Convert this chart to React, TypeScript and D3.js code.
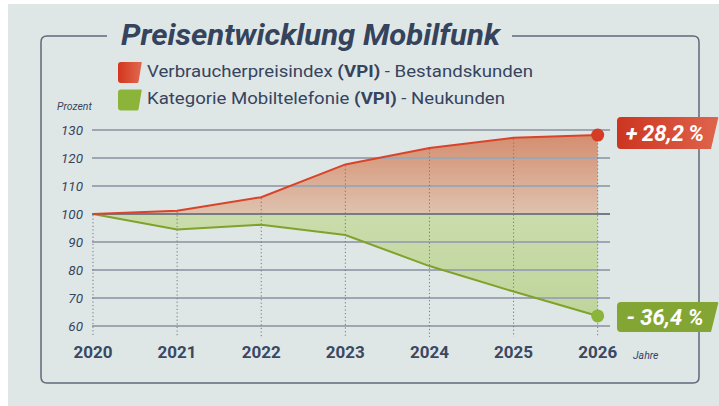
import React from "react";
import * as d3 from "d3";

const years = [2020, 2021, 2022, 2023, 2024, 2025, 2026];
const vpiBestand = [100, 101.2, 106, 117.7, 123.6, 127.2, 128.2];
const mobilNeu = [100, 94.5, 96.2, 92.5, 81.4, 72.3, 63.6];
const yTicks = [60, 70, 80, 90, 100, 110, 120, 130];
const legendLabels = [
  ["Verbraucherpreisindex ", "(VPI)", " - Bestandskunden"],
  ["Kategorie Mobiltelefonie ", "(VPI)", " - Neukunden"],
];
const title = "Preisentwicklung Mobilfunk";
const badgeRed = "+\u200928,2\u2009%";
const badgeGreen = "- 36,4 %";

const W = 719;
const H = 406;
const TEXT = "#36445e";
const FONT = "Roboto, 'Noto Sans', sans-serif";

export default function App() {
  const x = d3.scaleLinear().domain([2020, 2026]).range([93, 597.7]);
  const y = d3.scaleLinear().domain([60, 130]).range([326, 130]);
  const base = y(100);

  const redPts = years.map((yr, i) => [yr, vpiBestand[i]] as [number, number]);
  const greenPts = years.map((yr, i) => [yr, mobilNeu[i]] as [number, number]);

  const line = d3.line<[number, number]>().x((d) => x(d[0])).y((d) => y(d[1]));
  const area = d3
    .area<[number, number]>()
    .x((d) => x(d[0]))
    .y0(base)
    .y1((d) => y(d[1]));

  const lastX = x(years[years.length - 1]);
  const redEnd = y(vpiBestand[vpiBestand.length - 1]);
  const greenEnd = y(mobilNeu[mobilNeu.length - 1]);

  const badge = (x0: number, y0: number, w: number, h: number) => {
    const r = 4;
    const slant = 7;
    return `M${x0 + r},${y0} L${x0 + w - 1},${y0} Q${x0 + w + 1},${y0} ${x0 + w},${y0 + 2} L${x0 + w - slant},${y0 + h} L${x0 + r},${y0 + h} Q${x0},${y0 + h} ${x0},${y0 + h - r} L${x0},${y0 + r} Q${x0},${y0} ${x0 + r},${y0} Z`;
  };

  const swatch = (x0: number, y0: number, w: number, h: number) => {
    const r = 3;
    const slant = 3.5;
    return `M${x0 + r},${y0} L${x0 + w - 1},${y0} Q${x0 + w},${y0} ${x0 + w - 0.3},${y0 + 1} L${x0 + w - slant},${y0 + h - 1} Q${x0 + w - slant - 0.3},${y0 + h} ${x0 + w - slant - 1.5},${y0 + h} L${x0 + r},${y0 + h} Q${x0},${y0 + h} ${x0},${y0 + h - r} L${x0},${y0 + r} Q${x0},${y0} ${x0 + r},${y0} Z`;
  };

  const fx0 = 41, fy0 = 36, fx1 = 699, fy1 = 383, fr = 6;
  const framePath = `M107,${fy0} L${fx0 + fr},${fy0} Q${fx0},${fy0} ${fx0},${fy0 + fr} L${fx0},${fy1 - fr} Q${fx0},${fy1} ${fx0 + fr},${fy1} L${fx1 - fr},${fy1} Q${fx1},${fy1} ${fx1},${fy1 - fr} L${fx1},${fy0 + fr} Q${fx1},${fy0} ${fx1 - fr},${fy0} L512,${fy0}`;

  const legendLengths = [386, 358];

  return (
    <svg
      width={W}
      height={H}
      style={{ position: "absolute", left: 0, top: 0 }}
      fontFamily={FONT}
    >
      <defs>
        <linearGradient id="redArea" x1="0" y1={y(130)} x2="0" y2={base} gradientUnits="userSpaceOnUse">
          <stop offset="0" stopColor="#d38b6c" />
          <stop offset="1" stopColor="#dfc2ae" />
        </linearGradient>
        <linearGradient id="greenArea" x1="0" y1={base} x2="0" y2={y(63)} gradientUnits="userSpaceOnUse">
          <stop offset="0" stopColor="#cadcab" />
          <stop offset="1" stopColor="#bfd59c" />
        </linearGradient>
        <linearGradient id="redBadge" x1="0" y1="0" x2="1" y2="0">
          <stop offset="0" stopColor="#cc3520" />
          <stop offset="1" stopColor="#df644c" />
        </linearGradient>
        <linearGradient id="redSwatch" x1="0" y1="0" x2="1" y2="0">
          <stop offset="0" stopColor="#d3351d" />
          <stop offset="1" stopColor="#e06a50" />
        </linearGradient>
      </defs>
      <rect x={0} y={0} width={W} height={H} fill="#ffffff" />
      <rect x={8} y={4} width={W - 8} height={H - 4} fill="#dfe7e6" />

      <path d={framePath} fill="none" stroke="#5e6a7a" strokeWidth={1.5} />

      <text
        x={121}
        y={45}
        fontSize={29}
        fontWeight={700}
        fontStyle="italic"
        fill="#35435c"
        textLength={379}
        lengthAdjust="spacingAndGlyphs"
      >
        {title}
      </text>

      {legendLabels.map((parts, i) => (
        <g key={i}>
          <path
            d={swatch(118, 62 + i * 27.5, 24, 21)}
            fill={i === 0 ? "url(#redSwatch)" : "#8cb43a"}
          />
          <text
            x={147}
            y={77 + i * 27}
            fontSize={17}
            fill={TEXT}
            textLength={legendLengths[i]}
            lengthAdjust="spacingAndGlyphs"
          >
            {parts[0]}
            <tspan fontWeight={700}>{parts[1]}</tspan>
            {parts[2]}
          </text>
        </g>
      ))}

      <text x={57} y={110} fontSize={10.5} fontStyle="italic" fill={TEXT}>
        Prozent
      </text>

      {/* areas */}
      <path d={area(redPts) || ""} fill="url(#redArea)" />
      <path d={area(greenPts) || ""} fill="url(#greenArea)" />

      {/* grid */}
      {yTicks.map((t) => (
        <g key={t}>
          <line
            x1={92}
            x2={610}
            y1={y(t)}
            y2={y(t)}
            stroke={t === 100 ? "#767c84" : "#9ea6b2"}
            strokeWidth={2}
          />
          <text
            x={83}
            y={y(t) + 4.5}
            textAnchor="end"
            fontSize={13.5}
            fontStyle="italic"
            fill={TEXT}
          >
            {t}
          </text>
        </g>
      ))}

      {/* dotted verticals */}
      {years.map((yr, i) => (
        <line
          key={yr}
          x1={x(yr)}
          x2={x(yr)}
          y1={y(Math.max(vpiBestand[i], mobilNeu[i])) + 1}
          y2={337}
          stroke="#6e7683"
          strokeWidth={1}
          strokeDasharray="1.2,2.4"
        />
      ))}

      {/* lines */}
      <path d={line(greenPts) || ""} fill="none" stroke="#7fa22b" strokeWidth={2} />
      <path d={line(redPts) || ""} fill="none" stroke="#d9432a" strokeWidth={2} />

      <circle cx={lastX} cy={redEnd} r={6.5} fill="#d53c26" />
      <circle cx={lastX} cy={greenEnd} r={6.5} fill="#8bb43a" />

      {/* year labels */}
      {years.map((yr) => (
        <text
          key={yr}
          x={x(yr)}
          y={358}
          textAnchor="middle"
          fontSize={17}
          fontWeight={700}
          fill="#3a4862"
        >
          {yr}
        </text>
      ))}
      <text x={633} y={359} fontSize={10.5} fontStyle="italic" fill={TEXT}>
        Jahre
      </text>

      {/* badges */}
      <path d={badge(617, 117, 101, 32)} fill="url(#redBadge)" />
      <text x={665} y={141} textAnchor="middle" fontSize={22} fontWeight={700} fontStyle="italic" fill="#ffffff">
        {badgeRed}
      </text>
      <path d={badge(617, 302, 101, 30)} fill="#83a534" />
      <text x={665} y={325} textAnchor="middle" fontSize={22} fontWeight={700} fontStyle="italic" fill="#ffffff">
        {badgeGreen}
      </text>
    </svg>
  );
}
